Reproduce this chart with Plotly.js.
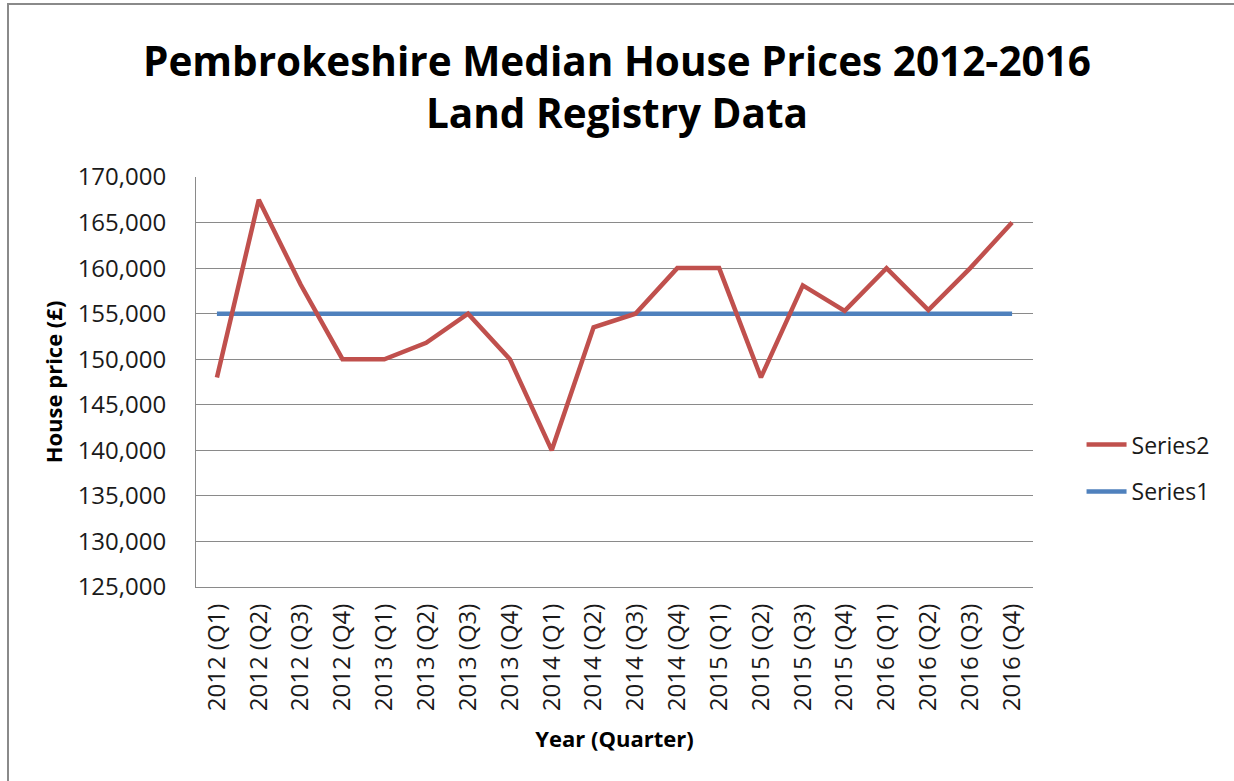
<!DOCTYPE html>
<html>
<head>
<meta charset="utf-8">
<script src="https://cdn.plot.ly/plotly-3.0.1.min.js"></script>
<style>
  html, body { margin: 0; padding: 0; background: #fff; }
  #chart { width: 1234px; height: 781px; position: absolute; left: 0; top: 0; }
  #frame { position: absolute; left: 7px; top: 3px; width: 1240px; height: 790px;
           border-left: 2px solid #8a8a8a; border-top: 2px solid #8a8a8a; pointer-events: none; }
</style>
</head>
<body>
<div id="chart"></div>
<div id="frame"></div>
<script>
const quarters = [
  "2012 (Q1)", "2012 (Q2)", "2012 (Q3)", "2012 (Q4)",
  "2013 (Q1)", "2013 (Q2)", "2013 (Q3)", "2013 (Q4)",
  "2014 (Q1)", "2014 (Q2)", "2014 (Q3)", "2014 (Q4)",
  "2015 (Q1)", "2015 (Q2)", "2015 (Q3)", "2015 (Q4)",
  "2016 (Q1)", "2016 (Q2)", "2016 (Q3)", "2016 (Q4)"
];
const series2 = [
  148000, 167500, 158200, 150000,
  150000, 151800, 155000, 150000,
  140000, 153500, 155000, 160000,
  160000, 148000, 158100, 155300,
  160000, 155400, 160000, 165000
];
const series1 = [
  155000, 155000, 155000, 155000,
  155000, 155000, 155000, 155000,
  155000, 155000, 155000, 155000,
  155000, 155000, 155000, 155000,
  155000, 155000, 155000, 155000
];
const yTicks = [125000, 130000, 135000, 140000, 145000, 150000, 155000, 160000, 165000, 170000];

const FONT = "'Open Sans', 'Liberation Sans', sans-serif";

const traces = [
  { x: quarters, y: series1, name: "Series1", type: "scatter", mode: "lines",
    legendgroup: "s1", legendrank: 2,
    line: { color: "#4F81BD", width: 4.5 } },
  { x: quarters, y: series2, name: "Series2", type: "scatter", mode: "lines",
    legendgroup: "s2", legendrank: 1,
    line: { color: "#C0504D", width: 4.5 } }
];

const layout = {
  width: 1234, height: 781,
  paper_bgcolor: "#ffffff", plot_bgcolor: "#ffffff",
  margin: { l: 196, r: 201, t: 177, b: 194, autoexpand: false },
  font: { family: FONT, color: "#1a1a1a", size: 22 },
  title: {
    text: "Pembrokeshire Median House Prices 2012-2016<br>Land Registry Data",
    font: { family: FONT, size: 40.5, color: "#000", weight: "bold" },
    x: 0.5, xanchor: "center", xref: "container",
    yref: "container", y: 0.903, yanchor: "middle"
  },
  showlegend: true,
  legend: {
    x: 1.058, xanchor: "left", y: 0.29, yanchor: "middle",
    traceorder: "grouped",
    font: { family: FONT, size: 23, color: "#1a1a1a" },
    bgcolor: "rgba(0,0,0,0)", itemwidth: 40, tracegroupgap: 14
  },
  xaxis: {
    type: "category",
    tickangle: -90,
    showgrid: false,
    showline: true, linecolor: "#8a8a8a", linewidth: 1,
    ticks: "", ticklabelstandoff: 6,
    tickfont: { family: FONT, size: 24, color: "#1a1a1a" },
    range: [-0.5, 19.5],
    automargin: false,
    title: { text: "Year (Quarter)", font: { family: FONT, size: 22, weight: "bold", color: "#000" }, standoff: 21 }
  },
  yaxis: {
    range: [125000, 170000],
    tickvals: yTicks,
    tickformat: ",d",
    showgrid: true, gridcolor: "#8a8a8a", gridwidth: 1,
    showline: true, linecolor: "#8a8a8a", linewidth: 1,
    zeroline: false,
    ticks: "", ticklabelstandoff: 24,
    tickfont: { family: FONT, size: 24, color: "#1a1a1a" },
    automargin: false,
    title: { text: "House price (£)", font: { family: FONT, size: 22, weight: "bold", color: "#000" }, standoff: 8 }
  }
};

Plotly.newPlot("chart", traces, layout, { displayModeBar: false, responsive: false });
</script>
</body>
</html>
